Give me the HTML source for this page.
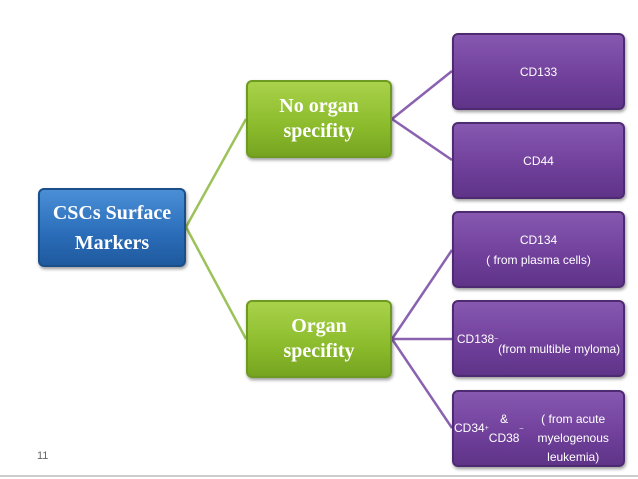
<!DOCTYPE html>
<html><head><style>
body{margin:0;width:638px;height:479px;background:#fff;position:relative;overflow:hidden;font-family:"Liberation Sans",sans-serif}
.b{position:absolute;border-radius:6px;display:flex;align-items:center;justify-content:center;text-align:center;color:#fff;box-sizing:border-box}
.blue{background:linear-gradient(#4a8fd6,#2a6cb8 60%,#1f5a9e);border:2px solid #1b4f8a;box-shadow:1px 2px 3px rgba(0,0,0,.4);font:bold 20px/30px "Liberation Serif",serif}
.green{background:linear-gradient(#a9d24a,#8bbb2c 60%,#76a421);border:2px solid #6d9a20;box-shadow:1px 2px 3px rgba(0,0,0,.4);font:bold 20px/25px "Liberation Serif",serif}
.p{left:452px;width:173px;height:77px;background:linear-gradient(#8758b0,#6f3f9a 60%,#5f3488);border:2px solid #4e2a72;box-shadow:1px 2px 3px rgba(0,0,0,.4);font-size:12px;line-height:20px}
</style></head><body>
<svg width="638" height="479" style="position:absolute;left:0;top:0">
<g stroke="#9cc25a" stroke-width="2.5" fill="none">
<line x1="186" y1="227" x2="246" y2="119"/><line x1="186" y1="227" x2="246" y2="339"/></g>
<g stroke="#8a62b0" stroke-width="2.5" fill="none">
<line x1="392" y1="119" x2="452" y2="71"/><line x1="392" y1="119" x2="452" y2="160"/>
<line x1="392" y1="339" x2="452" y2="250"/><line x1="392" y1="339" x2="452" y2="339"/><line x1="392" y1="339" x2="452" y2="428"/></g>
<line x1="0" y1="476" x2="638" y2="476" stroke="#ccc" stroke-width="2"/>
</svg>
<div class="b blue" style="left:38px;top:188px;width:148px;height:79px">CSCs Surface<br>Markers</div>
<div class="b green" style="left:246px;top:80px;width:146px;height:78px">No organ<br>specifity</div>
<div class="b green" style="left:246px;top:300px;width:146px;height:78px">Organ<br>specifity</div>
<div class="b p" style="top:33px">CD133</div>
<div class="b p" style="top:122px">CD44</div>
<div class="b p" style="top:211px">CD134<br>( from plasma cells)</div>
<div class="b p" style="top:300px">CD138 <sup style="font-size:7px">–</sup><br>(from multible myloma)</div>
<div class="b p" style="top:390px;line-height:19px">CD34<sup style="font-size:7px">+</sup> &amp; CD38<sup style="font-size:7px">–</sup><br>( from acute myelogenous<br>leukemia)</div>
<div style="position:absolute;left:37px;top:450px;font-size:11px;color:#666">11</div>
</body></html>
